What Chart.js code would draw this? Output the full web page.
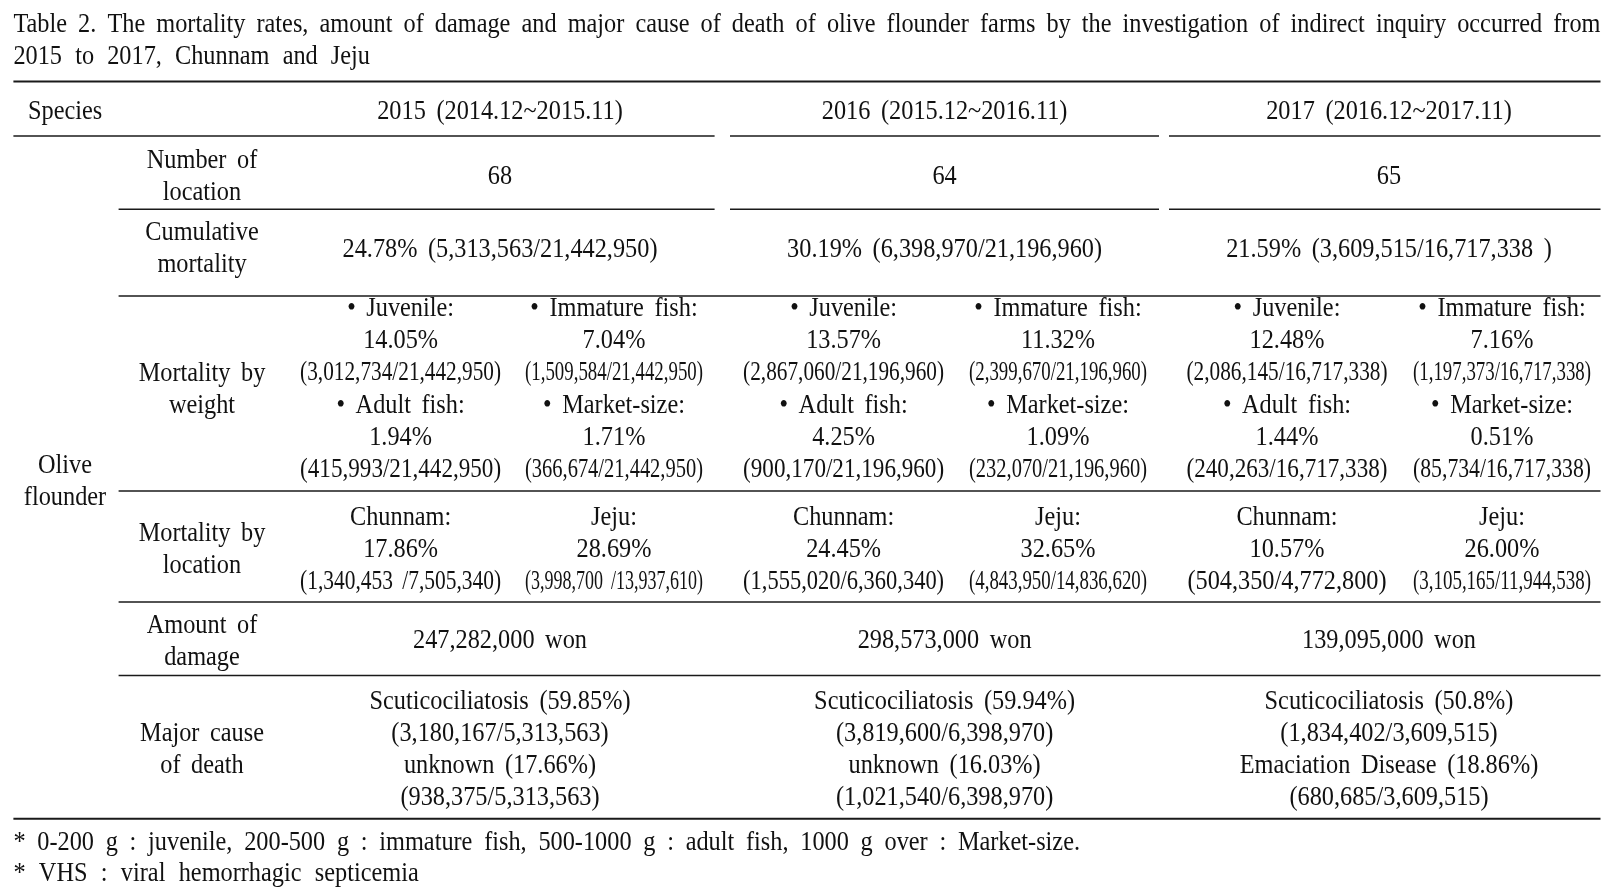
<!DOCTYPE html>
<html>
<head>
<meta charset="utf-8">
<script src="https://cdn.jsdelivr.net/npm/chart.js@4"></script>
<style>
  html, body { margin: 0; padding: 0; background: #fff; }
  canvas { display: block; }
</style>
</head>
<body>
<canvas id="table2" width="1617" height="891"></canvas>
<script>
// table content
const titleLines = [
    'Table 2. The mortality rates, amount of damage and major cause of death of olive flounder farms by the investigation of indirect inquiry occurred from',
    '2015 to 2017, Chunnam and Jeju',
];
const years = ['2015', '2016', '2017'];
const periods = ['2014.12~2015.11', '2015.12~2016.11', '2016.12~2017.11'];
const speciesName = ['Olive', 'flounder'];
const rowLabels = [
    ['Number of', 'location'],
    ['Cumulative', 'mortality'],
    ['Mortality by', 'weight'],
    ['Mortality by', 'location'],
    ['Amount of', 'damage'],
    ['Major cause', 'of death'],
];
const locationCounts = [68, 64, 65];
const cumulativeRates = ['24.78%', '30.19%', '21.59%'];
const cumulativeFractions = ['(5,313,563/21,442,950)', '(6,398,970/21,196,960)', '(3,609,515/16,717,338 )'];
const weightClasses = ['Juvenile', 'Immature fish', 'Adult fish', 'Market-size'];
const weightRates = [
    ['14.05%', '7.04%', '1.94%', '1.71%'],
    ['13.57%', '11.32%', '4.25%', '1.09%'],
    ['12.48%', '7.16%', '1.44%', '0.51%'],
];
const weightFractions = [
    ['(3,012,734/21,442,950)', '(1,509,584/21,442,950)', '(415,993/21,442,950)', '(366,674/21,442,950)'],
    ['(2,867,060/21,196,960)', '(2,399,670/21,196,960)', '(900,170/21,196,960)', '(232,070/21,196,960)'],
    ['(2,086,145/16,717,338)', '(1,197,373/16,717,338)', '(240,263/16,717,338)', '(85,734/16,717,338)'],
];
const locations = ['Chunnam', 'Jeju'];
const locationRates = [
    ['17.86%', '28.69%'],
    ['24.45%', '32.65%'],
    ['10.57%', '26.00%'],
];
const locationFractions = [
    ['(1,340,453 /7,505,340)', '(3,998,700 /13,937,610)'],
    ['(1,555,020/6,360,340)', '(4,843,950/14,836,620)'],
    ['(504,350/4,772,800)', '(3,105,165/11,944,538)'],
];
const damageWon = ['247,282,000', '298,573,000', '139,095,000'];
const causeLines = [
    ['Scuticociliatosis (59.85%)', '(3,180,167/5,313,563)', 'unknown (17.66%)', '(938,375/5,313,563)'],
    ['Scuticociliatosis (59.94%)', '(3,819,600/6,398,970)', 'unknown (16.03%)', '(1,021,540/6,398,970)'],
    ['Scuticociliatosis (50.8%)', '(1,834,402/3,609,515)', 'Emaciation Disease (18.86%)', '(680,685/3,609,515)'],
];
const footnotes = [
    '* 0-200 g : juvenile, 200-500 g : immature fish, 500-1000 g : adult fish, 1000 g over : Market-size.',
    '* VHS : viral hemorrhagic septicemia',
];

const FONT = '27px "Liberation Serif", "Times New Roman", serif';
const SX = 0.9; // the original typeface is a narrow Times
const DY = 2;   // nudge text down a little against the 'middle' baseline

// layout
const colCenter = [500, 944.6, 1389];
const subCenter = [[400.6, 614], [843.6, 1058], [1287, 1502]];
const subMax = [201, 178];
const labelX = 202;

const tablePlugin = {
    id: 'tableDraw',
    afterDraw(chart) {
        const { ctx } = chart;
        const xs = chart.scales.x;
        const ys = chart.scales.y;
        const px = (v) => xs.getPixelForValue(v);
        const py = (v) => ys.getPixelForValue(v + DY);

        ctx.save();
        ctx.font = FONT;
        ctx.fillStyle = '#111';
        ctx.textBaseline = 'middle';
        if ('wordSpacing' in ctx) ctx.wordSpacing = '5px';

        const text = (str, x, y, align, maxW) => {
            ctx.save();
            ctx.textAlign = align || 'center';
            ctx.translate(px(x), py(y));
            ctx.scale(SX, 1);
            if (maxW) ctx.fillText(str, 0, 0, maxW / SX);
            else ctx.fillText(str, 0, 0);
            ctx.restore();
        };

        // spread words across a fixed span (title and footnotes)
        const justify = (str, x0, x1, y) => {
            const words = str.split(' ');
            const widths = words.map((w) => ctx.measureText(w).width * SX);
            const total = widths.reduce((a, b) => a + b, 0);
            const gap = (px(x1) - px(x0) - total) / (words.length - 1);
            let cx = px(x0);
            words.forEach((w, i) => {
                ctx.save();
                ctx.textAlign = 'left';
                ctx.translate(cx, py(y));
                ctx.scale(SX, 1);
                ctx.fillText(w, 0, 0);
                ctx.restore();
                cx += widths[i] + gap;
            });
        };

        justify(titleLines[0], 13.4, 1600.5, 22.7);
        justify(titleLines[1], 13.4, 370, 54.7);

        // rules
        const hline = (y, x0, x1, w) => {
            ctx.beginPath();
            ctx.lineWidth = w;
            ctx.strokeStyle = '#1a1a1a';
            ctx.moveTo(px(x0), ys.getPixelForValue(y));
            ctx.lineTo(px(x1), ys.getPixelForValue(y));
            ctx.stroke();
        };
        hline(81.5, 13.4, 1600.5, 2);
        hline(136, 13.4, 714.6, 1.6);
        hline(209.3, 118.6, 714.6, 1.6);
        [136, 209.3].forEach((y) => {
            hline(y, 730, 1159, 1.6);
            hline(y, 1169, 1600.5, 1.6);
        });
        [296, 491, 602, 675.5].forEach((y) => hline(y, 118.6, 1600.5, 1.6));
        hline(818.8, 13.4, 1600.5, 2);

        // header
        text('Species', 28, 110.3, 'left');
        years.forEach((yr, i) => text(yr + ' (' + periods[i] + ')', colCenter[i], 110.3));

        // stub column
        text(speciesName[0], 65, 464);
        text(speciesName[1], 65, 496);
        const labelY = [[158.8, 190.8], [231, 263], [372.3, 404.3], [532, 564], [624, 656], [732, 764]];
        rowLabels.forEach((lines, r) => lines.forEach((l, k) => text(l, labelX, labelY[r][k])));

        const weightY = [307.3, 339.3, 371.3, 404.3, 436.2, 468.2];
        const locY = [515.6, 547.6, 579.6];
        const causeY = [700.2, 732.2, 764.2, 796.1];

        years.forEach((yr, i) => {
            text(String(locationCounts[i]), colCenter[i], 175.3);
            text(cumulativeRates[i] + ' ' + cumulativeFractions[i], colCenter[i], 247.5);

            weightClasses.forEach((cls, k) => {
                const sub = k % 2;
                const y0 = Math.floor(k / 2) * 3;
                const cx = subCenter[i][sub];
                text('\u2022 ' + cls + ':', cx, weightY[y0]);
                text(weightRates[i][k], cx, weightY[y0 + 1]);
                text(weightFractions[i][k], cx, weightY[y0 + 2], 'center', subMax[sub]);
            });

            locations.forEach((loc, k) => {
                const cx = subCenter[i][k];
                text(loc + ':', cx, locY[0]);
                text(locationRates[i][k], cx, locY[1]);
                text(locationFractions[i][k], cx, locY[2], 'center', subMax[k]);
            });

            text(damageWon[i] + ' won', colCenter[i], 639.4);
            causeLines[i].forEach((l, k) => text(l, colCenter[i], causeY[k]));
        });

        justify(footnotes[0], 13.4, 1080, 840.5);
        justify(footnotes[1], 13.4, 418.7, 872.4);
        ctx.restore();
    },
};

new Chart(document.getElementById('table2'), {
    type: 'scatter',
    data: { datasets: [] },
    options: {
        responsive: false,
        animation: false,
        events: [],
        layout: { padding: 0 },
        plugins: {
            legend: { display: false },
            tooltip: { enabled: false },
        },
        scales: {
            x: { type: 'linear', min: 0, max: 1617, display: false },
            y: { type: 'linear', min: 0, max: 891, reverse: true, display: false },
        },
    },
    plugins: [tablePlugin],
});
</script>
</body>
</html>
